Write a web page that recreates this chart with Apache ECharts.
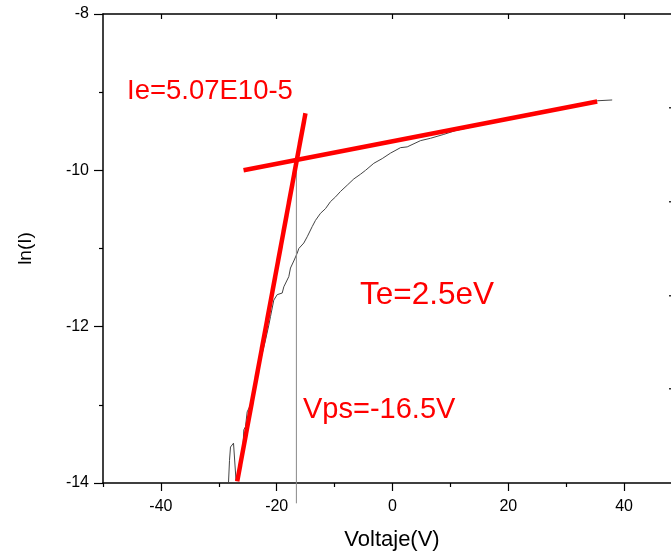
<!DOCTYPE html>
<html>
<head>
<meta charset="utf-8">
<script src="https://cdn.jsdelivr.net/npm/echarts@6/dist/echarts.min.js"></script>
<style>
html,body{margin:0;padding:0;background:#fff;}
#chart{width:671px;height:555px;}
</style>
</head>
<body>
<div id="chart"></div>
<script>
// Measured I-V curve (Voltaje vs ln(I))
var curveX = [-28.32,-28.15,-27.98,-27.46,-27.12,-27.03,-26.25,-25.91,-25.68,-25.39,-25.10,-24.52,-23.66,-22.80,-21.93,-21.36,-21.07,-20.50,-19.91,-19.05,-18.77,-17.91,-17.62,-17.05,-16.46,-16.18,-15.32,-14.73,-13.87,-13.30,-12.44,-11.57,-10.71,-9.84,-8.98,-7.82,-6.68,-5.53,-4.66,-3.23,-1.78,-0.35,1.38,2.54,4.84,6.56,8.86,10.97,13.47,18.65,23.83,29.02,33.33,35.40,37.94];
var curveY = [-13.99,-13.71,-13.54,-13.49,-13.49,-13.96,-13.81,-13.66,-13.32,-13.28,-13.09,-13.00,-12.75,-12.43,-12.17,-11.98,-11.87,-11.66,-11.59,-11.57,-11.49,-11.36,-11.25,-11.16,-11.06,-11.00,-10.93,-10.85,-10.72,-10.64,-10.55,-10.49,-10.40,-10.34,-10.27,-10.19,-10.11,-10.05,-10.00,-9.91,-9.85,-9.78,-9.71,-9.70,-9.62,-9.59,-9.54,-9.49,-9.45,-9.36,-9.27,-9.20,-9.14,-9.11,-9.10];
// Fitted lines
var fitSteepX = [-26.82, -15.03];
var fitSteepY = [-13.98, -9.27];
var fitFlatX = [-25.73, 35.35];
var fitFlatY = [-10.00, -9.12];
// Plasma potential marker
var vpsX = [-16.6, -16.6];
var vpsY = [-9.87, -14.26];
// Axis ticks / labels
var xMajor = [-40, -20, 0, 20, 40];
var xMinor = [-50, -30, -10, 10, 30];
var xMin = -50, xMax = 48.1, yMin = -14, yMax = -8;
var annotations = ['Ie=5.07E10-5', 'Te=2.5eV', 'Vps=-16.5V'];

function pairs(xs, ys){ return xs.map(function(x,i){ return [x, ys[i]]; }); }

var font = 'Liberation Sans, Arial, sans-serif';
var chart = echarts.init(document.getElementById('chart'), null, {renderer:'canvas'});
chart.setOption({
  animation: false,
  backgroundColor: '#ffffff',
  grid: { left: 103, top: 14, right: 0, height: 469, containLabel: false },
  xAxis: [
    { type:'value', position:'bottom', min:xMin, max:xMax, interval:10,
      axisLine:{show:true, onZero:false, lineStyle:{color:'#000', width:1.5}},
      axisTick:{show:true, customValues:xMajor, length:8, lineStyle:{color:'#000', width:1.2}},
      axisLabel:{show:true, customValues:xMajor, color:'#000', fontSize:16, fontFamily:font, margin:16},
      splitLine:{show:false}
    },
    { type:'value', position:'bottom', min:xMin, max:xMax, interval:10,
      axisLine:{show:false, onZero:false},
      axisTick:{show:true, customValues:xMinor, length:4, lineStyle:{color:'#000', width:1.2}},
      axisLabel:{show:false}, splitLine:{show:false}
    },
    { type:'value', position:'top', min:xMin, max:xMax, interval:10,
      axisLine:{show:true, onZero:false, lineStyle:{color:'#000', width:1.5}},
      axisTick:{show:true, inside:true, customValues:xMajor, length:5, lineStyle:{color:'#000', width:1.2}},
      axisLabel:{show:false}, splitLine:{show:false}
    }
  ],
  yAxis: [
    { type:'value', min:yMin, max:yMax, interval:2,
      axisLine:{show:true, onZero:false, lineStyle:{color:'#000', width:1.5}},
      axisTick:{show:true, length:9, lineStyle:{color:'#000', width:1.2}},
      minorTick:{show:true, splitNumber:2, length:4, lineStyle:{color:'#000', width:1.2}},
      axisLabel:{color:'#000', fontSize:16, fontFamily:font, margin:14},
      splitLine:{show:false},
      name:'ln(I)', nameLocation:'middle', nameGap:68,
      nameTextStyle:{color:'#000', fontSize:19, fontFamily:font}
    }
  ],
  series: [
    { type:'line', data:pairs(curveX, curveY), showSymbol:false, symbol:'none',
      lineStyle:{color:'#444', width:1}, z:2 },
    { type:'line', data:pairs(vpsX, vpsY), showSymbol:false, symbol:'none', clip:false,
      lineStyle:{color:'#888', width:1}, z:2 },
    { type:'line', data:pairs(fitSteepX, fitSteepY), showSymbol:false, symbol:'none',
      lineStyle:{color:'#ff0000', width:4.5}, z:3 },
    { type:'line', data:pairs(fitFlatX, fitFlatY), showSymbol:false, symbol:'none',
      lineStyle:{color:'#ff0000', width:4.5}, z:3 }
  ],
  graphic: [
    { type:'text', x:392, y:540, style:{text:'Voltaje(V)', fill:'#000', fontSize:22, fontFamily:font, align:'center', verticalAlign:'middle'} },
    { type:'text', left:127, top:77, style:{text:annotations[0], fill:'#ff0000', fontSize:27.5, fontFamily:font} },
    { type:'text', left:360, top:279, style:{text:annotations[1], fill:'#ff0000', fontSize:31.5, fontFamily:font} },
    { type:'text', left:303, top:395, style:{text:annotations[2], fill:'#ff0000', fontSize:29, fontFamily:font} },
    { type:'rect', left:669, top:107, shape:{width:2, height:1.5}, style:{fill:'#333'} },
    { type:'rect', left:669, top:201, shape:{width:2, height:1.5}, style:{fill:'#333'} },
    { type:'rect', left:669, top:295, shape:{width:2, height:1.5}, style:{fill:'#333'} },
    { type:'rect', left:669, top:388, shape:{width:2, height:1.5}, style:{fill:'#333'} }
  ]
});
</script>
</body>
</html>
